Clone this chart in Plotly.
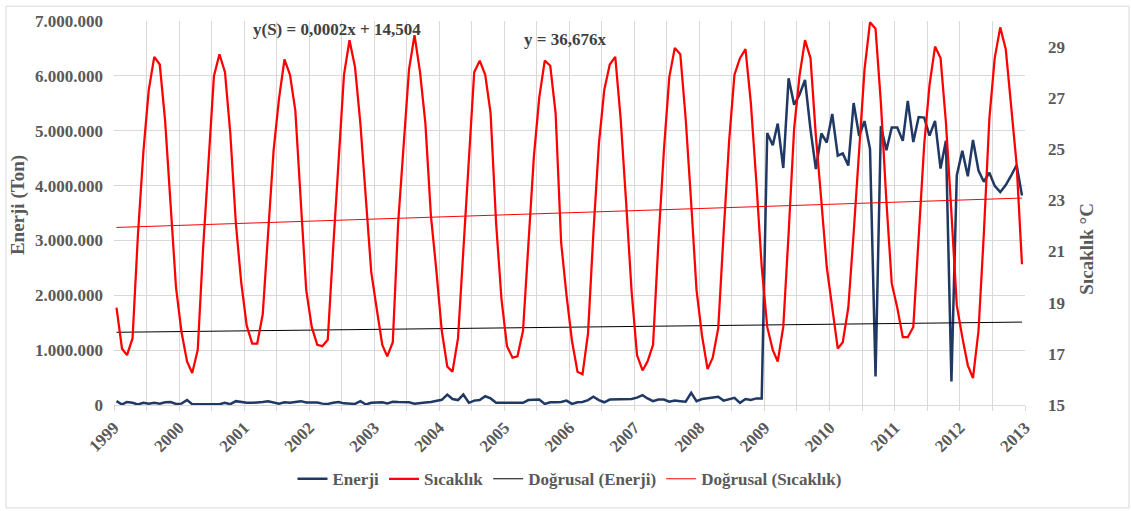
import numpy as np
import pandas as pd
import plotly.graph_objects as go

# ---- data (monthly, Jan 1999 - Dec 2012) ----
months = pd.date_range("1999-01-01", periods=168, freq="MS") + pd.Timedelta(days=14)

enerji_bin = [  # thousand tons, 1999-2008
    70, 10, 55, 40, 10, 40, 25, 40, 25, 50, 55, 20,
    25, 90, 15, 15, 15, 15, 15, 15, 40, 15, 70, 55,
    40, 40, 45, 55, 70, 40, 25, 50, 40, 55, 70, 45,
    50, 45, 25, 20, 40, 55, 30, 20, 20, 70, 10, 40,
    40, 50, 30, 60, 55, 55, 50, 25, 40, 45, 55, 70,
    95, 190, 110, 90, 190, 40, 80, 90, 160, 120, 40, 40,
    40, 30, 30, 40, 90, 95, 100, 20, 50, 50, 55, 80,
    20, 50, 55, 90, 150, 90, 50, 100, 100, 100, 105, 110,
    135, 180, 120, 70, 100, 100, 60, 80, 70, 60, 220, 70,
    110, 120, 130, 150, 80, 110, 130, 40, 110, 90, 120, 120,
]
enerji_milyon = [  # million tons, 2009-2012
    4.96, 4.735, 5.13, 4.32, 5.955, 5.475, 5.655, 5.925, 5.02, 4.30, 4.95, 4.785,
    5.305, 4.545, 4.585, 4.365, 5.505, 4.905, 5.175, 4.665, 0.52, 5.085, 4.645, 5.06,
    5.06, 4.815, 5.545, 4.795, 5.25, 5.24, 4.91, 5.18, 4.31, 4.815, 0.43, 4.185,
    4.635, 4.17, 4.83, 4.275, 4.07, 4.235, 3.995, 3.88, 4.01, 4.18, 4.375, 3.82,
]
enerji = [v * 1e3 for v in enerji_bin] + [v * 1e6 for v in enerji_milyon]

sicaklik = [
    18.8, 17.2, 16.95, 17.6, 21.6, 24.9, 27.3, 28.6, 28.3, 26.1, 22.8, 19.6,
    17.85, 16.7, 16.25, 17.15, 21.1, 24.6, 27.85, 28.7, 28.0, 25.6, 22.1, 19.8,
    18.1, 17.4, 17.4, 18.55, 21.7, 24.95, 26.95, 28.5, 27.9, 26.5, 22.9, 19.5,
    18.05, 17.35, 17.3, 17.55, 21.1, 24.6, 27.9, 29.25, 28.2, 26.0, 22.9, 20.2,
    18.75, 17.35, 16.9, 17.45, 22.1, 25.2, 28.1, 29.45, 28.0, 26.0, 22.4, 20.3,
    17.9, 16.5, 16.3, 17.6, 21.1, 24.7, 28.0, 28.45, 27.9, 26.4, 22.1, 19.15,
    17.3, 16.85, 16.9, 17.9, 21.1, 24.7, 27.0, 28.45, 28.25, 26.4, 21.35, 19.3,
    17.5, 16.3, 16.2, 17.8, 21.7, 25.2, 27.3, 28.3, 28.6, 26.2, 22.9, 19.5,
    16.95, 16.35, 16.7, 17.35, 21.35, 24.95, 27.8, 28.95, 28.7, 26.2, 22.9, 19.5,
    17.7, 16.4, 16.85, 18.0, 21.7, 25.3, 27.9, 28.55, 28.9, 26.8, 23.7, 20.4,
    18.05, 17.15, 16.7, 18.05, 21.7, 25.8, 27.85, 29.25, 28.55, 25.5, 22.95, 20.4,
    18.8, 17.2, 17.45, 18.8, 21.7, 25.15, 28.1, 29.95, 29.7, 26.8, 22.95, 19.75,
    18.8, 17.65, 17.65, 18.05, 21.4, 25.15, 27.5, 29.0, 28.55, 26.05, 22.5, 18.9,
    17.65, 16.55, 16.05, 17.9, 21.7, 26.2, 28.55, 29.75, 28.9, 26.8, 24.4, 20.5,
]

denklem_sicaklik = "y(S) = 0,0002x + 14,504"
denklem_enerji = "y = 36,676x"

# ---- linear trends (Excel serial day numbers as x) ----
serial = np.array([(d - pd.Timestamp("1899-12-30")).days for d in months], dtype=float)
e_arr = np.array(enerji)
t_arr = np.array(sicaklik)
k_e = (serial * e_arr).sum() / (serial * serial).sum()          # intercept forced to 0
trend_e = k_e * serial
a_t, b_t = np.polyfit(serial, t_arr, 1)
trend_t = a_t * serial + b_t

GRAY = "#595959"
GRID = "#D9D9D9"
FONT = "Liberation Serif"
tickfont = dict(family=FONT, size=17, color=GRAY, weight="bold")

fig = go.Figure()
fig.add_trace(go.Scatter(x=months, y=enerji, name="Enerji", mode="lines",
                         line=dict(color="#1F3864", width=2.5), yaxis="y"))
fig.add_trace(go.Scatter(x=months, y=sicaklik, name="Sıcaklık", mode="lines",
                         line=dict(color="#FF0000", width=2.25), yaxis="y2"))
fig.add_trace(go.Scatter(x=months, y=trend_e, name="Doğrusal (Enerji)", mode="lines",
                         line=dict(color="#000000", width=1), yaxis="y"))
fig.add_trace(go.Scatter(x=months, y=trend_t, name="Doğrusal (Sıcaklık)", mode="lines",
                         line=dict(color="#FF0000", width=1), yaxis="y2"))

H = 388.0
W = 911.0
L = 114.0
T = 17.0


def px(xp):
    return (xp - L) / W


def py(yp):
    return (T + H - yp) / H


fig.update_layout(
    width=1131, height=511,
    margin=dict(l=114, r=106, t=17, b=106),
    paper_bgcolor="white", plot_bgcolor="white",
    separators=",.",
    font=dict(family=FONT, color=GRAY),
    showlegend=True,
    legend=dict(orientation="h", x=0.5, xanchor="center", y=py(480), yanchor="middle",
                font=dict(family=FONT, size=17, color=GRAY, weight="bold"),
                itemwidth=30, bgcolor="rgba(0,0,0,0)"),
    xaxis=dict(type="date", range=["1999-01-01", "2013-01-01"],
               tick0="1999-01-01", dtick="M12", tickformat="%Y", tickangle=-45,
               tickfont=tickfont, showgrid=True, gridcolor=GRID, gridwidth=1,
               ticks="outside", ticklen=5, tickcolor=GRID,
               showline=True, linecolor=GRID, linewidth=1, zeroline=False,
               minor=dict(dtick="M6", showgrid=True, gridcolor=GRID, ticks="outside",
                          ticklen=5, tickcolor=GRID)),
    yaxis=dict(range=[0, 7e6], dtick=1e6, tickformat=",d", tickfont=tickfont,
               showgrid=True, gridcolor=GRID, zeroline=False, showline=False,
               ticklabelstandoff=10),
    yaxis2=dict(range=[15, 30], tick0=15, dtick=2, overlaying="y", side="right",
                tickfont=tickfont, showgrid=False, zeroline=False, showline=False,
                ticklabelstandoff=22),
    shapes=[dict(type="rect", xref="paper", yref="paper",
                 x0=px(6), x1=px(1129), y0=py(509), y1=py(2),
                 line=dict(color=GRID, width=1), fillcolor="rgba(0,0,0,0)", layer="below")],
    annotations=[
        dict(text="Enerji (Ton)", textangle=-90, xref="paper", yref="paper",
             x=px(18), y=py(203), xanchor="center", yanchor="middle", showarrow=False,
             font=dict(family=FONT, size=19, color=GRAY, weight="bold")),
        dict(text="Sıcaklık °C", textangle=-90, xref="paper", yref="paper",
             x=px(1087), y=py(247), xanchor="center", yanchor="middle", showarrow=False,
             font=dict(family=FONT, size=19, color=GRAY, weight="bold")),
        dict(text=denklem_sicaklik, xref="paper", yref="paper",
             x=px(337), y=py(26), xanchor="center", yanchor="middle", showarrow=False,
             font=dict(family=FONT, size=17, color="#404040", weight="bold")),
        dict(text=denklem_enerji, xref="paper", yref="paper",
             x=px(565), y=py(35.5), xanchor="center", yanchor="middle", showarrow=False,
             font=dict(family=FONT, size=17, color="#404040", weight="bold")),
    ],
)

fig.write_html("out.html")
